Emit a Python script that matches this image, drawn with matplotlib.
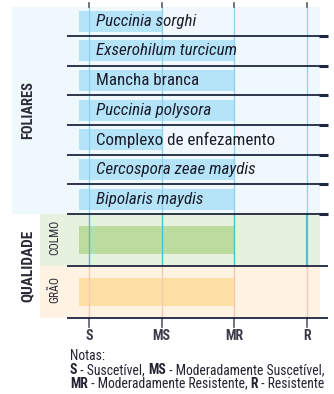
"""
plot.py — 病害抵抗性チャート（トウモロコシ品種）
"""
import matplotlib
matplotlib.use("Agg")
import matplotlib.pyplot as plt
import matplotlib.patches as mpatches
from matplotlib import font_manager

# データ
diseases = ["Puccinia sorghi", "Exserohilum turcicum", "Mancha branca",
            "Puccinia polysora", "Complexo de enfezamento",
            "Cercospora zeae maydis", "Bipolaris maydis"]
disease_italic = [True, True, False, True, False, True, True]
disease_level = [1, 2, 2, 2, 1, 2, 2]      # 0=S 1=MS 2=MR 3=R
quality = ["COLMO", "GRÃO"]
quality_level = [2, 2]
levels = ["S", "MS", "MR", "R"]

W, H = 334, 394
X0, SX = 89, 72.67      # S の位置(px) と 1段階の幅(px)
Y0, SY = 21, 29.7       # 1行目の中心(px) と 行の高さ(px)
BAR_START = (79 - X0) / SX


def pick_font(cands, default="DejaVu Sans"):
    names = {f.name for f in font_manager.fontManager.ttflist}
    for c in cands:
        if c in names:
            return c
    return default


FONT = pick_font(["Roboto Condensed", "Open Sans Condensed",
                  "Liberation Sans Narrow", "DejaVu Sans"])
plt.rcParams["font.family"] = [FONT, "DejaVu Sans"]
plt.rcParams["font.stretch"] = "condensed"

fig = plt.figure(figsize=(W / 100, H / 100), dpi=100)
ax = fig.add_axes([0, 0, 1, 1])
ax.set_xlim(-X0 / SX, (W - X0) / SX)
ax.set_ylim((H - Y0) / SY, -Y0 / SY)
ax.axis("off")
renderer = fig.canvas.get_renderer()


def fit_size(s, target_px, cap, **kw):
    """目標幅に合わせてフォントサイズを決める"""
    t = fig.text(0, 0, s, fontsize=10, **kw)
    w = t.get_window_extent(renderer=renderer).width
    t.remove()
    return min(cap, 10 * target_px / w)


def py(px):
    return (px - Y0) / SY


def px_x(px):
    return (px - X0) / SX


n = len(diseases)
colmo_top, colmo_bot = n - 0.5, n - 0.5 + 52 / SY
grao_top, grao_bot = colmo_bot, colmo_bot + 52 / SY
q_top = [colmo_top, grao_top]
q_bot = [colmo_bot, grao_bot]
q_center = [(a + b) / 2 for a, b in zip(q_top, q_bot)]

# 背景
ax.add_patch(mpatches.Rectangle((px_x(12), py(7)), px_x(320) - px_x(12),
                                n - 0.5 - py(7), facecolor="#eff8fd",
                                edgecolor="none", zorder=0))
bg_colors = ["#e6f1de", "#fef2e2"]
for top, bot, c in zip(q_top, q_bot, bg_colors):
    ax.add_patch(mpatches.Rectangle((px_x(40), top), px_x(320) - px_x(40),
                                    bot - top, facecolor=c, edgecolor="none",
                                    zorder=0))

# バー
rows = list(range(n))
ax.barh(rows, [lv - BAR_START for lv in disease_level], left=BAR_START,
        height=21 / SY, color="#b5e3f8", zorder=2)
ax.barh(q_center, [lv - BAR_START for lv in quality_level], left=BAR_START,
        height=27.5 / SY, color=["#bbdb9f", "#fde0a3"], zorder=2)

# 縦のグリッド線
for i in range(len(levels)):
    ax.plot([i, i], [py(7), n - 0.5], color="#8ad2ee", lw=0.9, zorder=2.5)
    ax.plot([i, i], [colmo_top, colmo_bot], color="#4fbfcb",
            lw=1.6 if i == 3 else 1.0, zorder=2.5)
    ax.plot([i, i], [grao_top, grao_bot], color="#f6c9b6", lw=1.0, zorder=2.5)
    ax.plot([i, i], [py(3), py(7)], color="#5a5a6a", lw=1.2, zorder=3)
    ax.plot([i, i], [grao_bot, py(327)], color="#5a5a6a", lw=1.2, zorder=3)

# 横線
xr = px_x(328)
for yb in [r + 0.5 for r in rows] + [grao_top, grao_bot]:
    ax.plot([px_x(67), xr], [yb, yb], color="#1e2640", lw=1.3, zorder=3,
            solid_capstyle="butt")
for yb in [r + 0.5 for r in rows]:
    ax.plot([px_x(319), xr], [yb, yb], color="#1e2640", lw=2.2, zorder=3,
            solid_capstyle="butt")

# 病名ラベル
lab_size = fit_size("Complexo de enfezamento", 178.6, 13)
for r, name, it in zip(rows, diseases, disease_italic):
    ax.text(px_x(96), r, name, fontsize=lab_size,
            style="italic" if it else "normal", color="#1c1c2a",
            ha="left", va="center", zorder=4)

# 左側のカテゴリ名
s = fit_size("FOLIARES", 58, 11, fontweight="bold")
ax.text(px_x(28), py(110.5), "FOLIARES", rotation=90, fontsize=s,
        fontweight="bold", color="#2a2a38", ha="center", va="center")
s = fit_size("QUALIDADE", 72, 11, fontweight="bold")
ax.text(px_x(28), (colmo_top + grao_bot) / 2, "QUALIDADE", rotation=90,
        fontsize=s, fontweight="bold", color="#2a2a38", ha="center",
        va="center")
for c, name in zip(q_center, quality):
    ax.text(px_x(54.5), c - 0.1, name, rotation=90, fontsize=8.5,
            color="#2a2a38", ha="center", va="center")

# 目盛りラベル
for i, lv in enumerate(levels):
    ax.text(i, py(336), lv, fontsize=10, fontweight="bold", color="#3a3a48",
            ha="center", va="center")

# 注記
ns = fit_size("MR - Moderadamente Resistente, R - Resistente", 252, 10)
ax.text(px_x(70), py(356), "Notas:", fontsize=ns, color="#222230",
        ha="left", va="center")
note_lines = [
    [("S", True), (" - Suscetível, ", False), ("MS", True),
     (" - Moderadamente Suscetível,", False)],
    [("MR", True), (" - Moderadamente Resistente, ", False), ("R", True),
     (" - Resistente", False)],
]
for yy, parts in zip([370, 383.5], note_lines):
    prev = None
    for txt, bold in parts:
        kw = dict(fontsize=ns, color="#222230",
                  fontweight="bold" if bold else "normal")
        if prev is None:
            prev = ax.text(px_x(70), py(yy), txt, ha="left", va="center", **kw)
        else:
            prev = ax.annotate(txt, xy=(1, 0), xycoords=prev, ha="left",
                               va="bottom", **kw)

fig.savefig("out.png", dpi=100)
plt.close(fig)
